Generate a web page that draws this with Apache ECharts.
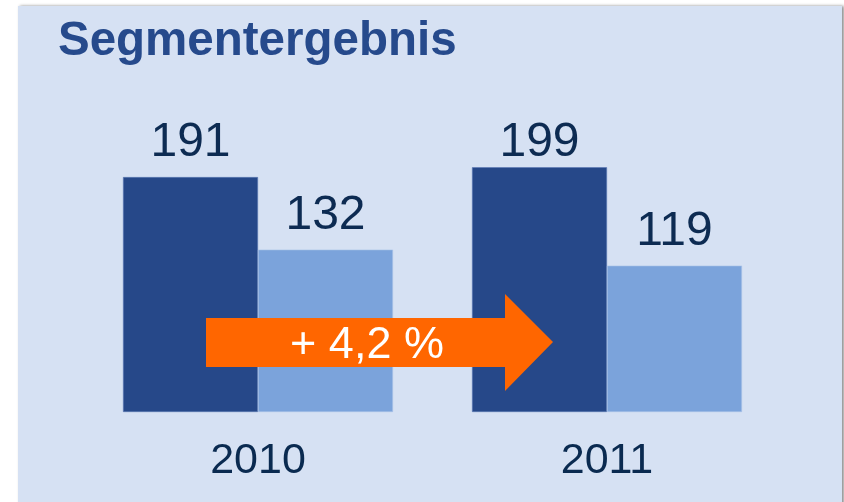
<!DOCTYPE html>
<html>
<head>
<meta charset="utf-8">
<script src="https://cdn.jsdelivr.net/npm/echarts@6/dist/echarts.min.js"></script>
<style>
  html, body { margin: 0; padding: 0; background: #ffffff; }
  #main { width: 844px; height: 502px; }
</style>
</head>
<body>
<div id="main"></div>
<script>
var years = ['2010', '2011'];
var firstValues = [191, 199];
var secondValues = [132, 119];
var growthLabel = '+ 4,2 %';

var myChart = echarts.init(document.getElementById('main'));

var labelStyle = {
  show: true,
  position: 'top',
  distance: 10,
  color: '#0d2b52',
  fontFamily: 'Liberation Sans',
  fontSize: 48
};

// in the original the 2011 label sits closer to its bar
var firstData = firstValues.map(function (v, i) {
  return i === 1 ? { value: v, label: { distance: 0 } } : v;
});

var option = {
  backgroundColor: '#ffffff',
  animation: false,
  title: {
    text: 'Segmentergebnis',
    left: 53,
    top: 13,
    textStyle: {
      fontFamily: 'Liberation Sans',
      fontWeight: 'bold',
      fontSize: 47.5,
      color: '#264a8c'
    }
  },
  grid: {
    left: 83.5,
    right: 62.5,
    top: 104.5,
    bottom: 90
  },
  xAxis: {
    type: 'category',
    data: years,
    axisLine: { show: false },
    axisTick: { show: false },
    axisLabel: {
      margin: 28,
      color: '#0a2a50',
      fontFamily: 'Liberation Sans',
      fontSize: 43
    }
  },
  yAxis: {
    type: 'value',
    min: 0,
    max: 250,
    show: false,
    splitLine: { show: false }
  },
  graphic: [
    {
      type: 'rect',
      z: -10,
      silent: true,
      shape: { x: 18, y: 6, width: 824, height: 500 },
      style: {
        fill: '#d6e1f3',
        shadowColor: 'rgba(0,0,0,0.45)',
        shadowBlur: 3,
        shadowOffsetX: 2,
        shadowOffsetY: 0
      }
    },
    {
      type: 'polygon',
      z: 100,
      silent: true,
      shape: {
        points: [[206, 318], [505, 318], [505, 294], [553, 342], [505, 391], [505, 367], [206, 367]]
      },
      style: { fill: '#ff6600' }
    },
    {
      type: 'text',
      z: 101,
      silent: true,
      x: 367,
      y: 346,
      style: {
        text: growthLabel,
        fill: '#ffffff',
        fontFamily: 'Liberation Sans',
        fontSize: 45,
        align: 'center',
        verticalAlign: 'middle'
      }
    }
  ],
  series: [
    {
      name: 'Segmentergebnis A',
      type: 'bar',
      data: firstData,
      barWidth: 135,
      barGap: '0%',
      itemStyle: { color: '#264889', borderColor: '#5a78b4', borderWidth: 0.6 },
      label: labelStyle
    },
    {
      name: 'Segmentergebnis B',
      type: 'bar',
      data: secondValues,
      barWidth: 135,
      itemStyle: { color: '#7ba3db', borderColor: '#a9c3e8', borderWidth: 0.6 },
      label: labelStyle
    }
  ]
};

myChart.setOption(option);
</script>
</body>
</html>
